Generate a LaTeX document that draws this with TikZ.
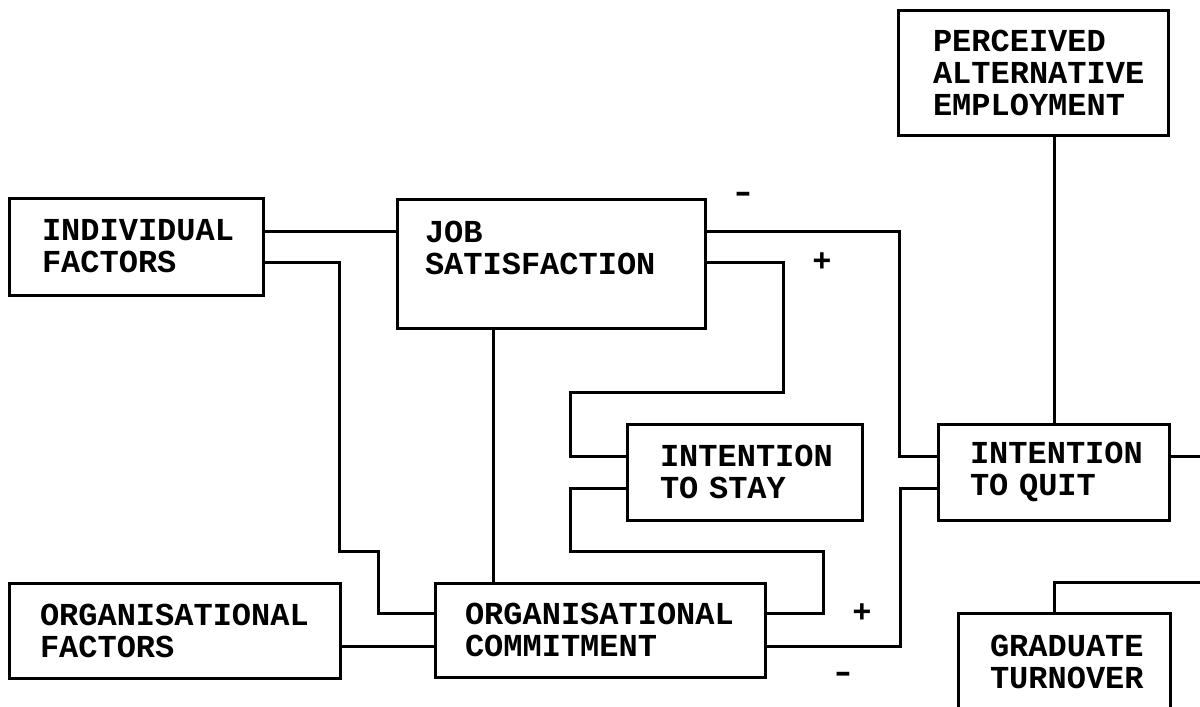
\documentclass[tikz,border=0pt]{standalone}
\usepackage{fontspec}
\setmainfont{Liberation Mono}
\begin{document}
\begin{tikzpicture}[x=1pt,y=-1pt,
  line width=3pt,
  conn/.style={draw, line width=3pt, line join=miter},
  box/.style={draw, line width=3pt, rectangle, anchor=north west, outer sep=0pt,
    inner ysep=0pt, align=left, font=\bfseries\fontsize{32}{32}\selectfont},
  sign/.style={inner sep=0pt, font=\bfseries\fontsize{32}{32}\selectfont}]
\useasboundingbox (0,0) rectangle (1200,707);
\clip (0,0) rectangle (1200,707);

% boxes
\node[box, minimum width=254pt, minimum height=97pt, inner xsep=33pt, text width=188pt] (IF) at (9,198) {INDIVIDUAL\\FACTORS};
\node[box, minimum width=308pt, minimum height=129pt, inner xsep=28pt, text width=252pt] (JS) at (397,199) {JOB\\SATISFACTION\\\mbox{}};
\node[box, minimum width=235pt, minimum height=96pt, inner xsep=33pt, text width=169pt] (ITS) at (627,424) {INTENTION\\TO STAY};
\node[box, minimum width=231pt, minimum height=96pt, inner xsep=32pt, text width=167pt] (ITQ) at (938,424) {INTENTION\\TO QUIT};
\node[box, minimum width=270pt, minimum height=125pt, inner xsep=35pt, text width=200pt] (PAE) at (898,10) {PERCEIVED\\ALTERNATIVE\\EMPLOYMENT};
\node[box, minimum width=331pt, minimum height=95pt, inner xsep=31pt, text width=269pt] (OF) at (9,583) {ORGANISATIONAL\\FACTORS};
\node[box, minimum width=330pt, minimum height=94pt, inner xsep=30pt, text width=270pt] (OC) at (435,583) {ORGANISATIONAL\\COMMITMENT};
\node[box, minimum width=212pt, minimum height=98pt, inner xsep=32pt, text width=148pt] (GT) at (958,613) {GRADUATE\\TURNOVER};

% helper coordinates
\coordinate (h231) at (0,231);
\coordinate (h262) at (0,262);
\coordinate (h456) at (0,456);
\coordinate (h488) at (0,488);
\coordinate (h613) at (0,613);
\coordinate (h646) at (0,646);
\coordinate (v493) at (493,0);
\coordinate (v1054) at (1054,0);
\coordinate (out1) at (1200,456);
\coordinate (out2) at (1200,582);

% connectors
\draw[conn] (IF.east |- h231) -- (JS.west |- h231);
\draw[conn] (IF.east |- h262) -- (339,262) -- (339,551) -- (378,551) -- (378,613) -- (OC.west |- h613);
\draw[conn] (JS.east |- h231) -- (899,231) -- (899,456) -- (ITQ.west |- h456);
\draw[conn] (JS.east |- h262) -- (783,262) -- (783,392) -- (570,392) -- (570,456) -- (ITS.west |- h456);
\draw[conn] (JS.south -| v493) -- (OC.north -| v493);
\draw[conn] (ITS.west |- h488) -- (570,488) -- (570,551) -- (823,551) -- (823,613) -- (OC.east |- h613);
\draw[conn] (OC.east |- h646) -- (900,646) -- (900,488) -- (ITQ.west |- h488);
\draw[conn] (OF.east |- h646) -- (OC.west |- h646);
\draw[conn] (PAE.south -| v1054) -- (ITQ.north -| v1054);
\draw[conn] (ITQ.east |- h456) -- (out1);
\draw[conn] (GT.north -| v1054) -- (1054,582) -- (out2);

% signs
\node[sign, xscale=1.4] (s1) at (743,197) {-};
\node[sign] (s2) at (822,262) {+};
\node[sign] (s3) at (862,613) {+};
\node[sign, xscale=1.4] (s4) at (843,677) {-};
\end{tikzpicture}
\end{document}
